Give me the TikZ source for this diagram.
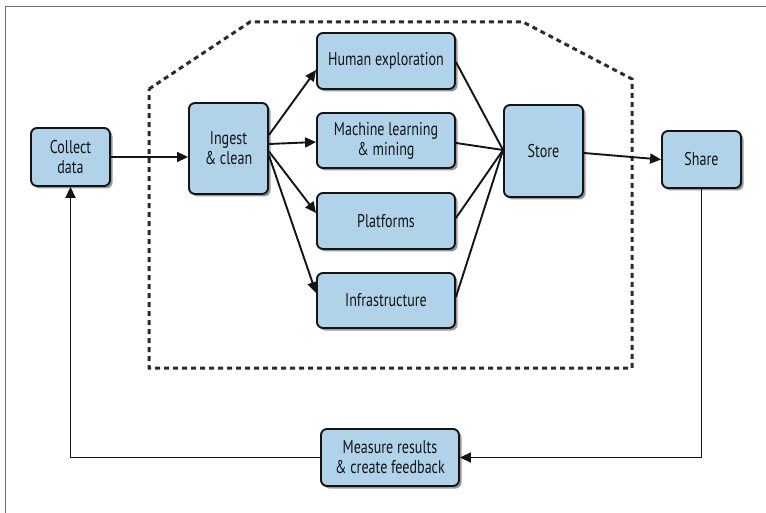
\documentclass[tikz,border=0pt]{standalone}
\usepackage{fontspec}
\setmainfont[FakeStretch=0.76]{PT Sans}
\usetikzlibrary{arrows.meta,calc,shadows}
\definecolor{boxfill}{RGB}{176,211,234}
\definecolor{ink}{RGB}{20,20,20}
\definecolor{framegray}{RGB}{110,110,110}
\begin{document}
\begin{tikzpicture}[x=1pt,y=-1pt,
  box/.style={draw=ink, line width=1.9pt, fill=boxfill, rounded corners=6pt,
    align=center, inner sep=2pt, text=ink,
    font=\fontsize{18.5}{20}\selectfont,
    drop shadow={shadow xshift=2.5pt, shadow yshift=-2.5pt, opacity=0.4, fill=black}},
  smallbox/.style={box, minimum width=79pt},
  widebox/.style={box, minimum width=138pt},
  link/.style={draw=ink, line width=1.9pt},
  flow/.style={link, -{Triangle[length=11pt,width=10pt]}},
  zone/.style={draw=ink!90, line width=3pt, dash pattern=on 5pt off 4pt}
]
\useasboundingbox (0,0) rectangle (766,513);
\fill[white] (0,0) rectangle (766,513);

% partial outer frame
\draw[framegray, line width=1pt] (5,513) -- (5,7) -- (766,7);

% dashed zone around the analysis steps
\draw[zone] (149,89) -- (250,22) -- (523,22) -- (632,79) -- (632,368) -- (149,368) -- cycle;

% boxes
\node[smallbox, minimum height=58pt] (collect) at (70.5,157) {Collect\\data};
\node[smallbox, minimum height=91pt] (ingest) at (228.5,148.5) {Ingest\\\& clean};
\node[widebox, minimum height=56pt] (human) at (386,61) {Human exploration};
\node[widebox, minimum height=55pt] (ml) at (386,140.5) {Machine learning\\\& mining};
\node[widebox, minimum height=56pt] (plat) at (386,221) {Platforms};
\node[widebox, minimum height=55pt] (infra) at (386,300.5) {Infrastructure};
\node[smallbox, minimum height=92pt] (store) at (543.5,151) {Store};
\node[smallbox, minimum height=57pt] (share) at (701.5,159.5) {Share};
\node[widebox, minimum height=57pt] (measure) at (390,457.5) {Measure results\\\& create feedback};

% main flow
\draw[flow] (collect.east) -- (collect.east -| ingest.west);
\draw[flow] ($(ingest.east)+(0,-13.5)$) -- ($(human.west)+(0,9)$);
\draw[flow] ($(ingest.east)+(0,-4.5)$) -- ($(ml.west)+(0,1.5)$);
\draw[flow] ($(ingest.east)+(0,3)$) -- ($(plat.west)+(0,-8)$);
\draw[flow] ($(ingest.east)+(0,7)$) -- ($(infra.west)+(0,-7.5)$);

% everything converges on the store
\coordinate (sin) at ($(store.west)+(0,-1)$);
\draw[link] ($(human.east)+(0,1)$) -- (sin);
\draw[link] ($(ml.east)+(0,2.5)$) -- (sin);
\draw[link] ($(plat.east)+(0,-3)$) -- (sin);
\draw[link] ($(infra.east)+(0,-3.5)$) -- (sin);

\draw[flow] ($(store.east)+(0,2)$) -- (share.west);

% feedback loop
\draw[flow] (share.south) |- (measure.east);
\draw[flow] (measure.west) -| (collect.south);
\end{tikzpicture}
\end{document}
